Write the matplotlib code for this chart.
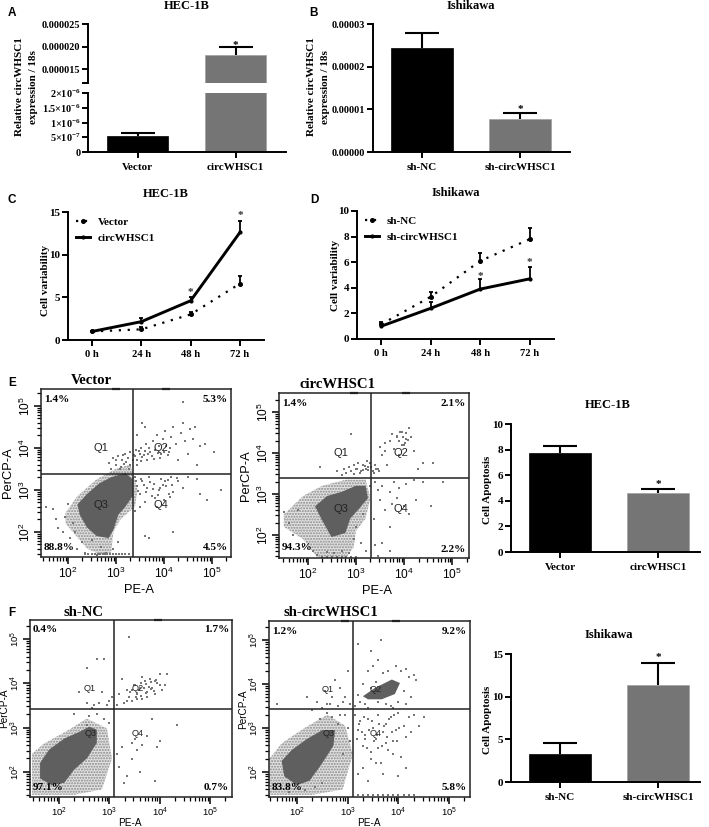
import numpy as np
import matplotlib
matplotlib.use('Agg')
import matplotlib.pyplot as plt
from matplotlib.ticker import LogLocator, NullFormatter, FixedLocator
from matplotlib.transforms import Affine2D

W, H = 709, 827
plt.rcParams['font.family'] = ['Liberation Serif', 'DejaVu Sans']
plt.rcParams['mathtext.default'] = 'regular'
SANS = ['Liberation Sans', 'DejaVu Sans']
GREY = '#757575'
CORE = '#5f5f5f'
DOT = '#767676'

# bar panels
a_groups = ['Vector', 'circWHSC1']
a_means = [5.5e-7, 1.82e-5]
a_tops = [6.5e-7, 1.98e-5]
b_groups = ['sh-NC', 'sh-circWHSC1']
b_means = [2.43e-5, 0.78e-5]
b_tops = [2.79e-5, 0.92e-5]
e_means = [7.7, 4.6]
e_tops = [8.3, 4.95]
f_means = [3.3, 11.4]
f_tops = [4.6, 13.9]

# growth curves
hours = ['0 h', '24 h', '48 h', '72 h']
c_vector = [1.0, 1.25, 3.0, 6.6]
c_vector_err = [0.1, 0.25, 0.3, 0.85]
c_circ = [1.0, 2.15, 4.6, 12.6]
c_circ_err = [0.1, 0.4, 0.4, 1.4]
d_nc = [1.15, 3.3, 6.1, 7.8]
d_nc_err = [0.15, 0.35, 0.6, 0.85]
d_circ = [1.0, 2.4, 3.9, 4.7]
d_circ_err = [0.2, 0.5, 0.75, 0.9]

# flow plots, all in decades (log10 of signal)
vec_core_x = [2.2, 2.4, 2.65, 2.9, 3.2, 3.35, 3.35, 3.2, 3.05, 2.95, 2.85, 2.6, 2.4, 2.25]
vec_core_y = [2.65, 2.9, 3.15, 3.3, 3.4, 3.25, 2.85, 2.6, 2.4, 2.05, 1.85, 1.9, 2.1, 2.4]
vec_halo_x = [1.95, 2.2, 2.6, 3.0, 3.3, 3.45, 3.4, 3.1, 2.95, 2.9, 2.7, 2.4, 2.1, 1.95]
vec_halo_y = [2.45, 2.85, 3.25, 3.5, 3.6, 3.0, 2.6, 2.3, 2.0, 1.5, 1.45, 1.6, 2.0, 2.2]
vec_x = [2.85, 2.9, 2.95, 3.0, 3.05, 3.1, 3.12, 3.18, 3.2, 3.25, 3.28, 3.3, 3.36, 3.4, 3.42, 3.45, 3.5, 3.52,
         3.55, 3.6, 3.62, 3.68, 3.7, 3.75, 3.78, 3.82, 3.85, 3.9, 3.95, 3.98, 4.02, 4.05, 4.1, 4.15, 4.2, 4.25,
         4.3, 4.35, 4.4, 4.45, 4.5, 4.55, 4.6, 4.65, 4.7, 4.75, 4.85, 5.05, 4.4, 3.6, 3.45, 3.55,
         3.4, 3.45, 3.5, 3.55, 3.6, 3.65, 3.7, 3.75, 3.8, 3.85, 3.9, 3.95, 4.0, 4.05, 4.1, 4.15, 4.2, 4.3, 4.4,
         4.5, 4.7, 4.75, 4.9, 5.2, 3.6, 3.7, 4.2, 3.4, 3.5,
         1.55, 1.7, 1.75, 1.8, 1.9, 1.95, 2.0, 2.05, 2.1, 2.15, 2.2, 2.3, 2.35, 2.5, 2.6, 2.7, 2.8, 2.95, 3.05,
         3.0, 3.08, 3.14, 3.22, 3.3, 3.38, 3.44, 3.48, 3.53, 3.58, 3.64, 3.72, 3.8, 3.88, 3.93, 4.0, 4.08, 4.12,
         3.42, 3.47, 3.52, 3.58, 3.63, 3.72, 3.78, 3.88, 3.98, 4.08, 4.18, 4.28, 4.12, 4.02, 3.92, 3.82,
         2.35, 2.42, 2.5, 2.56, 2.62, 2.68, 2.74, 2.78, 2.82, 2.88, 2.94, 3.0, 3.06, 3.12, 3.2, 3.28]
vec_y = [3.65, 3.5, 3.75, 3.6, 3.8, 3.55, 3.7, 3.62, 3.85, 3.75, 3.5, 3.9, 3.7, 3.8, 3.95, 3.72, 3.85, 4.0,
         3.78, 3.92, 4.1, 3.85, 4.0, 3.8, 4.15, 3.95, 4.3, 4.05, 3.85, 4.2, 4.4, 4.05, 3.9, 4.25, 4.5, 4.1,
         3.7, 4.35, 4.6, 4.15, 3.85, 4.45, 4.2, 4.5, 3.6, 4.05, 4.1, 3.9, 5.1, 4.5, 4.3, 4.6,
         3.3, 3.1, 2.9, 3.2, 2.7, 3.05, 3.3, 2.85, 3.15, 2.6, 3.0, 3.25, 2.75, 3.1, 2.9, 3.3, 2.95, 3.2, 3.05,
         3.3, 3.25, 2.9, 2.75, 3.0, 1.9, 1.85, 2.0, 2.5, 2.6,
         2.6, 2.55, 2.3, 2.1, 2.0, 2.35, 2.65, 1.85, 2.2, 2.0, 1.6, 1.75, 1.5, 1.8, 1.45, 1.65, 1.5, 1.6, 1.75,
         3.72, 3.5, 3.82, 3.66, 3.58, 3.82, 3.6, 3.92, 3.68, 3.82, 3.72, 3.9, 3.74, 3.88, 3.76, 3.9, 3.82, 4.0,
         3.22, 2.98, 3.26, 3.12, 2.94, 3.18, 3.02, 2.88, 3.12, 3.24, 3.12, 3.28, 2.82, 3.22, 3.05, 2.8,
         1.47, 1.47, 1.47, 1.47, 1.47, 1.47, 1.47, 1.47, 1.47, 1.47, 1.47, 1.47, 1.47, 1.47, 1.47, 1.47]

circ_core_x = [2.15, 2.4, 2.7, 3.0, 3.2, 3.25, 3.05, 2.88, 2.78, 2.49, 2.3]
circ_core_y = [2.7, 2.95, 3.05, 3.2, 3.2, 2.9, 2.62, 2.4, 2.05, 1.95, 2.35]
circ_halo_x = [1.5, 1.9, 2.3, 2.8, 3.2, 3.3, 3.2, 3.0, 2.95, 2.8, 2.2, 1.9, 1.5]
circ_halo_y = [2.5, 2.95, 3.2, 3.35, 3.35, 2.9, 2.4, 2.1, 1.7, 1.45, 1.45, 1.9, 2.2]
circ_x = [2.6, 2.7, 2.75, 2.8, 2.85, 2.9, 2.95, 3.0, 3.05, 3.1, 3.15, 3.2, 3.22, 3.25, 3.3, 3.35, 3.4, 3.45,
          3.5, 3.55, 3.6, 3.65, 3.6, 3.7, 3.75, 3.8, 3.85, 3.9, 3.95, 4.0, 4.05, 4.1, 4.15, 4.2, 4.3, 4.4, 4.6,
          2.25, 2.9, 3.4, 3.45, 3.5, 3.55, 3.6, 3.7, 3.75, 3.8, 3.85, 3.9, 4.0, 4.05, 4.1, 4.2, 4.25, 4.4, 4.55,
          4.8, 3.4, 3.55, 3.7, 3.45, 3.7, 3.3, 3.38,
          1.5, 1.6, 1.7, 1.8, 1.9, 2.95, 3.0, 3.1, 3.15, 3.2,
          2.95, 3.02, 3.08, 3.14, 3.18, 3.26, 3.32, 3.38, 3.42, 3.48, 3.85, 3.92, 3.98, 4.04, 4.08, 3.9, 3.96, 4.02,
          2.3, 2.4, 2.5, 2.6, 2.7, 2.8, 2.9, 3.0, 2.1, 2.2, 2.4, 2.55, 2.7, 2.85]
circ_y = [3.55, 3.45, 3.6, 3.5, 3.65, 3.55, 3.7, 3.6, 3.75, 3.55, 3.7, 3.6, 3.8, 3.65, 3.75, 3.55, 3.7, 3.6,
          4.15, 3.95, 4.05, 3.7, 4.25, 4.3, 4.45, 4.1, 4.4, 3.95, 4.5, 4.2, 4.35, 4.6, 4.4, 4.05, 3.6, 3.75, 3.75,
          3.65, 4.45, 3.3, 3.1, 2.85, 3.2, 2.6, 3.05, 2.75, 3.3, 2.9, 3.15, 2.7, 3.25, 2.5, 3.35, 2.85, 3.3, 2.7,
          3.3, 1.75, 1.8, 1.6, 1.5, 2.2, 3.2, 2.4,
          2.55, 2.3, 2.0, 2.6, 1.7, 1.9, 2.2, 1.8, 2.5, 1.6,
          3.48, 3.62, 3.5, 3.58, 3.68, 3.58, 3.66, 3.52, 3.62, 3.56, 4.42, 4.52, 4.4, 4.48, 4.32, 4.3, 4.2, 4.25,
          1.47, 1.47, 1.47, 1.47, 1.47, 1.47, 1.47, 1.47, 1.6, 1.52, 1.58, 1.55, 1.62, 1.55]

nc_core_x = [1.62, 1.8, 2.1, 2.4, 2.6, 2.75, 2.75, 2.55, 2.3, 2.1, 1.85, 1.62]
nc_core_y = [2.2, 2.5, 2.75, 2.9, 3.02, 2.95, 2.65, 2.3, 2.05, 1.75, 1.7, 1.85]
nc_halo_x = [1.46, 1.69, 2.15, 2.55, 2.95, 3.05, 2.85, 2.3, 1.46]
nc_halo_y = [2.41, 2.63, 2.92, 3.2, 2.98, 2.3, 1.6, 1.48, 1.48]
nc_x = [2.55, 2.75, 2.9, 2.4, 2.55, 2.65, 2.85, 2.7, 2.8, 2.95, 3.0, 3.05, 2.6, 2.75, 2.9, 3.0, 2.3, 2.55,
        3.15, 3.2, 3.3, 3.35, 3.4, 3.45, 3.5, 3.55, 3.6, 3.65, 3.7, 3.75, 3.8, 3.85, 3.9, 3.95, 4.0, 4.05, 4.1,
        3.25, 3.35, 3.45, 3.55, 3.65, 3.75, 3.9, 4.0, 4.15, 3.4,
        3.15, 3.2, 3.25, 3.35, 3.45, 3.5, 3.55, 3.65, 3.75, 3.85, 4.0, 4.35, 3.3, 3.6, 3.9, 3.45, 3.95,
        3.42, 3.48, 3.52, 3.58, 3.62, 3.68, 3.72, 3.78, 3.82, 3.88, 3.92, 3.62, 3.72, 3.82]
nc_y = [4.35, 4.55, 4.55, 3.8, 3.55, 3.45, 3.8, 3.5, 3.55, 3.5, 3.6, 3.7, 3.25, 3.3, 3.2, 3.1, 3.3, 3.05,
        3.5, 3.75, 3.55, 3.85, 3.7, 3.6, 3.95, 3.75, 3.9, 3.65, 4.05, 3.8, 4.1, 3.9, 3.75, 4.0, 4.2, 3.85, 3.95,
        4.1, 3.6, 3.85, 3.65, 4.15, 3.7, 4.05, 3.95, 4.2, 5.05,
        2.4, 2.1, 2.55, 1.9, 2.65, 2.75, 2.5, 2.6, 2.8, 3.2, 2.7, 3.05, 1.75, 2.0, 1.8, 2.3, 2.55,
        3.8, 3.95, 3.7, 3.85, 4.0, 3.9, 3.78, 3.92, 4.02, 3.82, 4.08, 3.72, 3.98, 3.88]

sh_core_x = [1.7, 1.9, 2.2, 2.5, 2.75, 2.72, 2.5, 2.25, 2.0, 1.75]
sh_core_y = [2.25, 2.5, 2.75, 2.95, 2.95, 2.6, 2.2, 1.8, 1.7, 1.9]
sh_halo_x = [1.46, 1.7, 2.15, 2.6, 2.95, 3.1, 2.9, 2.3, 1.46]
sh_halo_y = [2.3, 2.65, 3.0, 3.3, 3.05, 2.4, 1.6, 1.48, 1.48]
sh_q2_x = [3.30, 3.54, 3.87, 4.03, 3.93, 3.67, 3.40]
sh_q2_y = [3.72, 3.91, 4.10, 4.02, 3.77, 3.65, 3.65]
sh_x = [3.15, 3.2, 3.25, 3.3, 3.35, 3.4, 3.45, 3.5, 3.55, 3.6, 3.7, 3.75, 3.8, 3.85, 3.95, 4.0, 4.05, 4.1, 4.15,
        4.2, 4.25, 4.3, 3.45, 3.6, 3.65, 3.2, 3.4, 3.9, 4.35, 4.15,
        3.15, 3.2, 3.25, 3.3, 3.35, 3.4, 3.45, 3.5, 3.55, 3.6, 3.65, 3.7, 3.75, 3.8, 3.85, 3.9, 3.95, 4.0, 4.05,
        4.1, 4.15, 4.2, 4.25, 4.3, 4.4, 4.5, 3.2, 3.4, 3.55, 3.7, 3.3, 3.45, 4.0, 4.15, 3.6, 3.9, 3.35, 3.75,
        2.2, 2.3, 2.4, 2.5, 2.55, 2.6, 2.7, 2.75, 2.8, 2.85, 2.9, 2.95, 3.0, 3.05, 2.65, 2.85, 1.6, 2.45, 2.7,
        2.6, 2.8, 2.95, 3.0, 3.05, 2.9, 2.5, 2.35, 1.85, 2.15,
        3.18, 3.22, 3.28, 3.32, 3.38, 3.42, 3.48, 3.52, 3.58, 3.62, 3.68, 3.72, 3.78, 3.82, 3.88, 3.92, 3.98, 4.02,
        3.2, 3.3, 3.4, 3.5, 3.6, 3.7, 3.8, 3.9, 4.0, 4.1, 4.2, 4.3]
sh_y = [3.5, 3.75, 3.6, 4.0, 3.55, 4.3, 3.9, 4.4, 4.05, 3.6, 4.25, 3.55, 4.3, 3.5, 4.4, 3.6, 4.3, 3.85, 4.35,
        4.15, 3.7, 4.2, 4.75, 4.55, 5.0, 4.9, 3.45, 3.45, 4.1, 3.55,
        3.3, 2.95, 3.15, 2.6, 2.85, 3.2, 2.45, 3.0, 2.75, 3.3, 2.2, 2.9, 3.1, 2.5, 3.25, 2.7, 2.95, 3.35, 2.35,
        3.05, 2.8, 3.25, 2.9, 3.3, 3.05, 3.25, 1.95, 1.8, 2.2, 1.95, 2.1, 2.3, 1.9, 2.1, 2.55, 2.4, 2.75, 2.65,
        3.7, 3.4, 3.6, 3.45, 3.85, 3.55, 3.7, 4.1, 3.5, 3.9, 3.6, 3.7, 4.3, 3.55, 3.55, 3.3, 3.55, 3.2, 3.25,
        3.35, 3.1, 3.3, 3.0, 2.7, 2.4, 1.75, 1.65, 1.55, 1.6,
        2.75, 3.1, 2.9, 3.25, 2.55, 2.95, 3.15, 2.7, 2.85, 3.1, 2.6, 3.05, 2.8, 3.2, 2.9, 3.3, 2.7, 3.0,
        1.47, 1.47, 1.47, 1.47, 1.47, 1.47, 1.47, 1.47, 1.47, 1.47, 1.47, 1.47]

fig = plt.figure(figsize=(W / 100, H / 100), dpi=100)
px = Affine2D().scale(1, -1).translate(0, H)


def add_ax(left, top, right, bottom):
    return fig.add_axes([left / W, 1 - bottom / H, (right - left) / W, (bottom - top) / H])


def label(x, y, s, size=8, weight='bold', rotation=0, ha='center', family=None):
    fig.text(x, y, s, transform=px, fontsize=size, fontweight=weight, rotation=rotation,
             ha=ha, va='center', family=family or plt.rcParams['font.family'])


def style_prism(ax):
    for side in ['top', 'right']:
        ax.spines[side].set_visible(False)
    for side in ['left', 'bottom']:
        ax.spines[side].set_linewidth(1.4)
    ax.tick_params(width=1.4, length=4, labelsize=7.4, pad=1.5)
    for t in ax.get_xticklabels() + ax.get_yticklabels():
        t.set_fontweight('bold')


def bars(ax, means, tops):
    ax.bar([0, 1], means, width=0.63, color=['black', GREY], edgecolor=['black', '#a0a0a0'], linewidth=0.5)
    eb = ax.errorbar([0, 1], means, yerr=[[0, 0], np.array(tops) - np.array(means)], fmt='none', ecolor='black',
                     elinewidth=1.5, capsize=12, capthick=1.5)
    eb[1][0].set_visible(False)


def bar_panel(rect, means, tops, ticks, ticklabels, groups, right_lim=1.51):
    ax = add_ax(*rect)
    bars(ax, means, tops)
    ax.set_xlim(-0.5, right_lim)
    ax.set_ylim(ticks[0], ticks[-1])
    ax.set_yticks(ticks, ticklabels)
    ax.set_xticks([0, 1], groups)
    style_prism(ax)
    ax.tick_params(axis='x', labelsize=8, pad=4)
    return ax


# A, broken axis
ax_up = add_ax(88, 24, 286, 83)
bars(ax_up, a_means, a_tops)
ax_up.set_xlim(-0.505, 1.515)
ax_up.set_ylim(1.19e-5, 2.5e-5)
ax_up.set_yticks([1.19e-5, 1.5e-5, 2e-5, 2.5e-5], ['', '0.000015', '0.000020', '0.000025'])
style_prism(ax_up)
ax_up.spines['bottom'].set_visible(False)
ax_up.set_xticks([])
ax_low = add_ax(88, 93, 286, 152)
bars(ax_low, a_means, a_tops)
ax_low.set_xlim(-0.505, 1.515)
ax_low.set_ylim(0, 2e-6)
ax_low.set_yticks([0, 5e-7, 1e-6, 1.5e-6, 2e-6],
                  ['0', '5×10$^{-7}$', '1×10$^{-6}$', '1.5×10$^{-6}$', '2×10$^{-6}$'])
ax_low.set_xticks([0, 1], a_groups)
style_prism(ax_low)
ax_low.tick_params(axis='x', labelsize=8, pad=4)
label(187, 6, 'HEC-1B', 9)
label(20, 87, 'Relative circWHSC1', 8, rotation=90)
label(34, 87, 'expression / 18s', 8, rotation=90)

# B
ax_b = bar_panel((373, 24, 570, 152), b_means, b_tops, [0, 1e-5, 2e-5, 3e-5],
                 ['0.00000', '0.00001', '0.00002', '0.00003'], b_groups)
ax_b.text(1, 1.0e-5, '*', ha='center', va='center', fontsize=8, fontweight='bold')
ax_up.text(1, 2.03e-5, '*', ha='center', va='center', fontsize=8, fontweight='bold')
label(471, 6, 'Ishikawa', 9)
label(312, 87, 'Relative circWHSC1', 8, rotation=90)
label(326, 87, 'expression / 18s', 8, rotation=90)


def curve_panel(rect, s1, e1, s2, e2, names, ymax, ticks, stars):
    ax = add_ax(*rect)
    x = np.arange(4)
    for s, e in [(s1, e1), (s2, e2)]:
        eb = ax.errorbar(x, s, yerr=[np.zeros(4), e], fmt='none', ecolor='black', capsize=1.5,
                         elinewidth=1.3, capthick=1.3)
        eb[1][0].set_visible(False)
    ax.plot(x, s1, color='black', ls=(0, (1, 3)), lw=1.6, marker='o', ms=2.6, label=names[0])
    ax.plot(x, s2, color='black', ls='-', lw=2.1, marker='o', ms=2, label=names[1])
    for i, v in stars:
        ax.text(i, v, '*', ha='center', va='center', fontsize=8, fontweight='bold', color='#333333')
    ax.set_xlim(-0.49, 3.49)
    ax.set_ylim(0, ymax)
    ax.set_xticks(x, hours)
    ax.set_yticks(ticks)
    style_prism(ax)
    ax.tick_params(axis='x', labelsize=7.6, pad=3)
    ax.tick_params(axis='y', labelsize=8)
    ax.legend(loc='upper left', bbox_to_anchor=(0.0, 1.02), frameon=False, handlelength=1.3,
              handletextpad=0.7, labelspacing=0.55, borderpad=0.2,
              prop={'weight': 'bold', 'size': 8})
    return ax


curve_panel((68, 212, 264, 340), c_vector, c_vector_err, c_circ, c_circ_err, ['Vector', 'circWHSC1'], 15,
            [0, 5, 10, 15], [(2, 5.6), (3, 14.6)])
label(166, 194, 'HEC-1B', 9)
label(46, 280, 'Cell variability', 8, rotation=90)

curve_panel((357, 211, 554, 339), d_nc, d_nc_err, d_circ, d_circ_err, ['sh-NC', 'sh-circWHSC1'], 10,
            [0, 2, 4, 6, 8, 10], [(2, 4.9), (3, 5.95)])
label(456, 193, 'Ishikawa', 9)
label(336, 275, 'Cell variability', 8, rotation=90)

# E and F bars
ax_e = bar_panel((511, 424, 700, 552), e_means, e_tops, [0, 2, 4, 6, 8, 10], ['0', '2', '4', '6', '8', '10'],
                 a_groups, 1.43)
ax_e.text(1, 5.3, '*', ha='center', va='center', fontsize=8, fontweight='bold')
ax_e.tick_params(axis='y', labelsize=8)
label(608, 405, 'HEC-1B', 9)
label(487, 490, 'Cell Apoptosis', 8, rotation=90)

ax_f = bar_panel((511, 654, 700, 782), f_means, f_tops, [0, 5, 10, 15], ['0', '5', '10', '15'],
                 b_groups, 1.43)
ax_f.text(1, 14.6, '*', ha='center', va='center', fontsize=8, fontweight='bold')
ax_f.tick_params(axis='y', labelsize=8)
label(609, 635, 'Ishikawa', 9)
label(487, 720, 'Cell Apoptosis', 8, rotation=90)


def dec(v):
    return 10.0 ** np.array(v)


def flow_panel(rect, lims, gate, title, title_xy, pcts, xs, ys, core, halo, top_marks, extra=None, big=True):
    ax = add_ax(*rect)
    ax.set_xscale('log')
    ax.set_yscale('log')
    ax.fill(dec(halo[0]), dec(halo[1]), facecolor='#e2e2e2', edgecolor='#8a8a8a', hatch='......', linewidth=0)
    ax.fill(dec(core[0]), dec(core[1]), color=CORE, linewidth=0)
    if extra is not None:
        ax.fill(dec(extra[0]), dec(extra[1]), color=CORE, linewidth=0)
    ax.scatter(dec(xs), dec(ys), s=1.3, color=DOT, marker='s', linewidths=0)
    ax.axvline(10 ** gate[0], color='#222222', lw=1.1)
    ax.axhline(10 ** gate[1], color='#222222', lw=1.1)
    ax.set_xlim(10 ** lims[0], 10 ** lims[1])
    ax.set_ylim(10 ** lims[2], 10 ** lims[3])
    ax.plot(dec(top_marks), [10 ** lims[3]] * len(top_marks), ls='none', marker='_', ms=6, mew=1.6,
            color='#222222', clip_on=False)
    lab = 8.6 if big else 6.8
    for axis in [ax.xaxis, ax.yaxis]:
        axis.set_major_locator(FixedLocator([1e2, 1e3, 1e4, 1e5]))
        axis.set_minor_locator(LogLocator(base=10, subs=np.arange(2, 10) * 1.0, numticks=12))
        axis.set_minor_formatter(NullFormatter())
    ax.tick_params(which='major', length=5, width=1.1, labelsize=lab, pad=1)
    ax.tick_params(which='minor', length=3, width=0.9)
    for t in ax.get_xticklabels() + ax.get_yticklabels():
        t.set_family(SANS)
    for t in ax.get_yticklabels():
        t.set_rotation(90)
        t.set_va('center')
    for side in ax.spines.values():
        side.set_linewidth(1.1)
        side.set_color('#222222')
    l, t, r, b = rect
    qsize = 8 if big else 6.6
    if big:
        q_pos = [('Q1', 2.68, 4.0), ('Q2', 3.94, 4.0), ('Q3', 2.68, 2.64), ('Q4', 3.94, 2.64)]
    else:
        q_pos = [('Q1', 2.6, 3.88), ('Q2', 3.56, 3.88), ('Q3', 2.62, 2.87), ('Q4', 3.56, 2.87)]
    for s, xd, yd in q_pos:
        ax.text(10 ** xd, 10 ** yd, s, fontsize=qsize, family=SANS, ha='center', va='center', color='#222222')
    label(l + 3, t + 10, pcts[0], 8.1, ha='left')
    label(r - 3, t + 10, pcts[1], 8.1, ha='right')
    label(l + 3, b - 10, pcts[2], 8.1, ha='left')
    label(r - 3, b - 9, pcts[3], 8.1, ha='right')
    label(title_xy[0], title_xy[1], title, 10.6)
    label((l + r) / 2 + (3 if big else -1), b + (33 if big else 26), 'PE-A', 9.3 if big else 7.2, weight='normal', family=SANS)
    label(l - (33 if big else 26), (t + b) / 2, 'PerCP-A', 9.3 if big else 7.2, weight='normal', rotation=90, family=SANS)
    return ax


flow_panel((41, 389, 231, 557), (1.44, 5.40, 1.40, 5.40), (3.35, 3.38), 'Vector', (91, 381),
           ['1.4%', '5.3%', '88.8%', '4.5%'], vec_x, vec_y, (vec_core_x, vec_core_y), (vec_halo_x, vec_halo_y),
           [3.0, 4.05])
flow_panel((279, 393, 469, 558), (1.40, 5.35, 1.44, 5.46), (3.31, 3.39), 'circWHSC1', (338, 385),
           ['1.4%', '2.1%', '94.3%', '2.2%'], circ_x, circ_y, (circ_core_x, circ_core_y), (circ_halo_x, circ_halo_y),
           [2.95, 4.05])
flow_panel((30, 620, 232, 797), (1.42, 5.44, 1.43, 5.43), (3.10, 3.43), 'sh-NC', (84, 613),
           ['0.4%', '1.7%', '97.1%', '0.7%'], nc_x, nc_y, (nc_core_x, nc_core_y), (nc_halo_x, nc_halo_y),
           [3.96], big=False)
flow_panel((269, 621, 470, 797), (1.45, 5.41, 1.43, 5.43), (3.10, 3.43), 'sh-circWHSC1', (331, 613),
           ['1.2%', '9.2%', '83.8%', '5.8%'], sh_x, sh_y, (sh_core_x, sh_core_y), (sh_halo_x, sh_halo_y),
           [2.95, 3.95], extra=(sh_q2_x, sh_q2_y), big=False)

# panel letters
for s, x, y in [('A', 12, 13), ('B', 314, 13), ('C', 12, 200), ('D', 314, 200), ('E', 12, 383), ('F', 12, 613)]:
    label(x, y, s, 8.5, family=SANS)

fig.savefig('out.png', dpi=100)
